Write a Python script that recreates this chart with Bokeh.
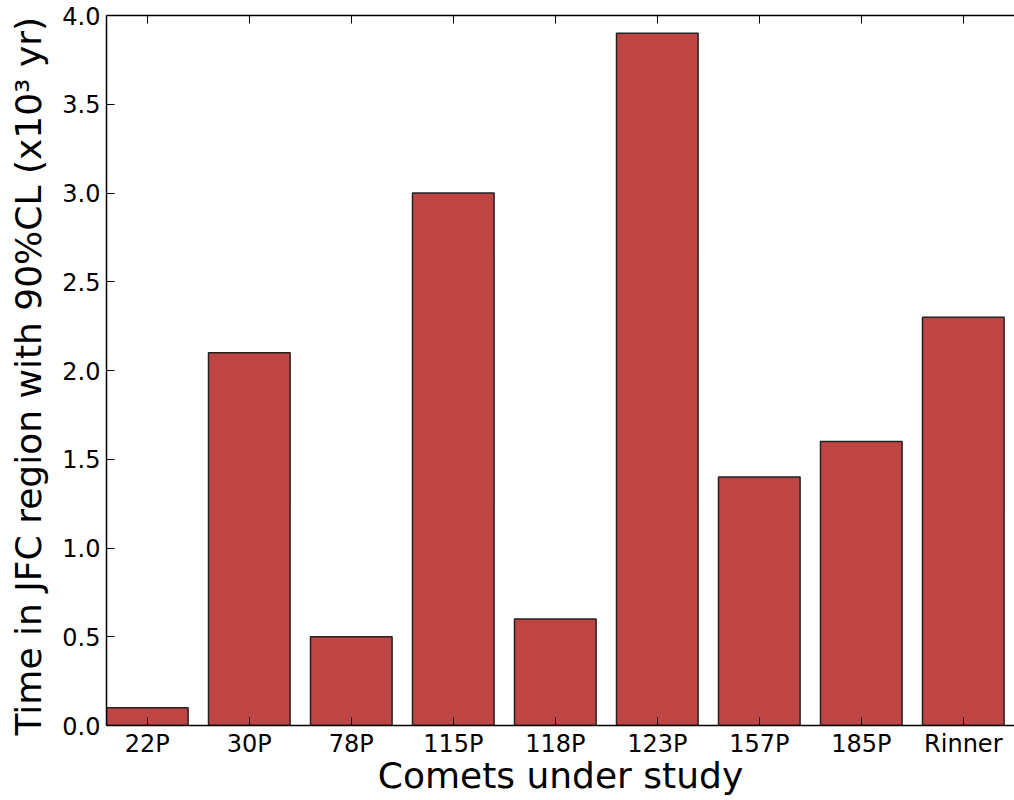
from bokeh.plotting import figure
from bokeh.models import Range1d, FixedTicker, LinearAxis, CustomJSTickFormatter, NumeralTickFormatter
from bokeh.embed import file_html
from bokeh.resources import INLINE

comets = ["22P", "30P", "78P", "115P", "118P", "123P", "157P", "185P", "Rinner"]
times = [0.1, 2.1, 0.5, 3.0, 0.6, 3.9, 1.4, 1.6, 2.3]
y_ticks = [0.0, 0.5, 1.0, 1.5, 2.0, 2.5, 3.0, 3.5, 4.0]

xs = [i + 0.4 for i in range(len(comets))]

p = figure(width=1014, height=800, output_backend="svg", toolbar_location=None,
           x_range=Range1d(0, 8.902), y_range=Range1d(0, 4.0),
           min_border_left=106, min_border_right=0, min_border_top=15, min_border_bottom=75,
           x_axis_label="Comets under study",
           y_axis_label="Time in JFC region with 90%CL (x10³  yr)")
p.outline_line_color = None
p.grid.visible = False
p.background_fill_color = "white"
p.border_fill_color = "white"

p.vbar(x=xs, top=times, width=0.8, bottom=0, fill_color="#BF4444",
       line_color="#222222", line_width=1.5)

font = "DejaVu Sans"
xa = p.xaxis[0]
xa.ticker = FixedTicker(ticks=xs)
xa.major_label_overrides = {x: c for x, c in zip(xs, comets)}
ya = p.yaxis[0]
ya.ticker = FixedTicker(ticks=y_ticks)
ya.formatter = NumeralTickFormatter(format="0.0")

for ax in (xa, ya):
    ax.major_tick_in = 8
    ax.major_tick_out = 0
    ax.minor_tick_in = 0
    ax.minor_tick_out = 0
    ax.axis_line_color = "black"
    ax.axis_line_width = 1.5
    ax.major_tick_line_color = "black"
    ax.major_tick_line_width = 1
    ax.major_label_text_font = font
    ax.major_label_text_font_size = "24px"
    ax.major_label_text_color = "black"
    ax.axis_label_text_font = font
    ax.axis_label_text_font_size = "36px"
    ax.axis_label_text_font_style = "normal"
    ax.axis_label_text_color = "black"

xa.major_label_standoff = 4
xa.axis_label_standoff = -6
ya.major_label_standoff = 6
ya.axis_label_standoff = 10

top = LinearAxis(ticker=FixedTicker(ticks=xs),
                 formatter=CustomJSTickFormatter(code="return ''"))
top.major_tick_in = 8
top.major_tick_out = 0
top.minor_tick_in = 0
top.minor_tick_out = 0
top.axis_line_width = 1.5
top.axis_line_color = "black"
top.major_label_text_font_size = "0px"
top.major_label_standoff = 0
p.add_layout(top, "above")

open("out.html", "w").write(file_html(p, INLINE))
